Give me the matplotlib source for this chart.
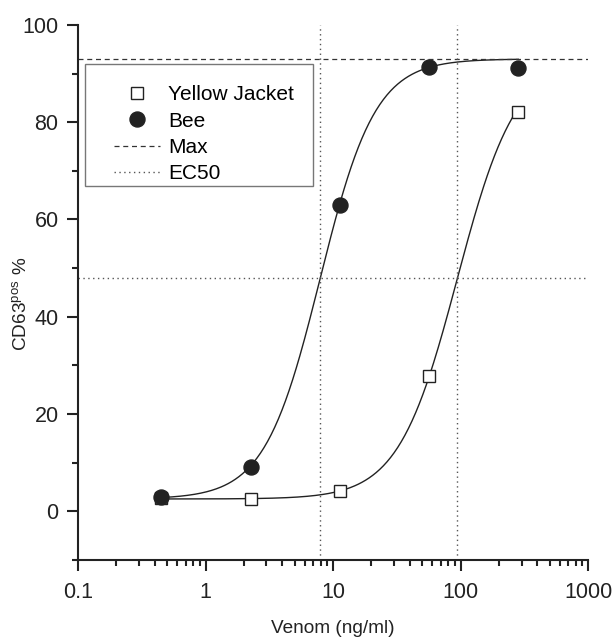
import numpy as np
from matplotlib import pyplot as plt
from matplotlib.patches import Rectangle

plt.rcParams["font.family"] = ["Liberation Sans", "DejaVu Sans"]

dose = [0.45, 2.27, 11.3, 56.6, 283]
yellow_jacket = [2.7, 2.5, 4.1, 27.8, 82.1]
bee = [2.9, 9.0, 63.0, 91.4, 91.2]

# fitted 4PL parameters
bottom = 2.5
top = 93.0
bee_ec50, bee_hill = 7.9, 2.0
yj_ec50, yj_hill = 94.0, 1.88
ec50_level = 47.9


def logistic(x, ec50, hill):
    return bottom + (top - bottom) / (1 + (ec50 / x) ** hill)


fig = plt.figure(figsize=(6.14, 6.39), dpi=100)
ax = fig.add_axes([0.127, 0.124, 0.831, 0.837])

xs = np.logspace(np.log10(dose[0]), np.log10(dose[-1]), 300)
ax.plot(xs, logistic(xs, bee_ec50, bee_hill), color="#222222", lw=1.0)
ax.plot(xs, logistic(xs, yj_ec50, yj_hill), color="#222222", lw=1.0)

ax.plot(dose, yellow_jacket, "s", ms=8.5, mfc="white", mec="#222222", mew=1.0,
        ls="none", label="Yellow Jacket")
ax.plot(dose, bee, "o", ms=10.8, color="#222222", ls="none", label="Bee")

ax.axhline(top, color="#333333", ls=(0, (4, 3)), lw=0.9, label="Max")
ax.axhline(ec50_level, color="#555555", ls=(0, (1, 2.5)), lw=1.0, label="EC50")
ax.axvline(bee_ec50, color="#555555", ls=(0, (1, 2.5)), lw=1.0)
ax.axvline(yj_ec50, color="#555555", ls=(0, (1, 2.5)), lw=1.0)

ax.set_xscale("log")
ax.set_xlim(0.1, 1000)
ax.set_ylim(-10, 100)
ax.set_xticks([0.1, 1, 10, 100, 1000])
ax.set_xticklabels(["0.1", "1", "10", "100", "1000"])
ax.set_yticks([0, 20, 40, 60, 80, 100])
ax.set_yticks([-10, 10, 30, 50, 70, 90], minor=True)

for s in ["top", "right"]:
    ax.spines[s].set_visible(False)
for s in ["left", "bottom"]:
    ax.spines[s].set_linewidth(1.5)
    ax.spines[s].set_color("#222222")

ax.tick_params(which="major", direction="out", length=8, width=1.5,
               labelsize=15.5, colors="#222222", pad=6)
ax.tick_params(axis="x", which="major", pad=8)
ax.tick_params(which="minor", direction="out", length=4.5, width=1.5,
               colors="#222222")

ax.set_xlabel("Venom (ng/ml)", fontsize=13.7, color="#222222", labelpad=12)
ax.set_ylabel("CD63$^{\\mathregular{pos}}$ %", fontsize=13.7, color="#222222")
ax.yaxis.set_label_coords(-0.092, 0.478)

# legend box drawn separately so its padding matches the original
ax.add_patch(Rectangle((0.0137, 0.699), 0.447, 0.228, transform=ax.transAxes,
                       fill=True, facecolor="white", edgecolor="#777777",
                       lw=1.0, zorder=4))
leg = ax.legend(loc="upper left", bbox_to_anchor=(0.0706, 0.887), fontsize=15,
                frameon=False, handlelength=2.2, handletextpad=0.4,
                borderpad=0, labelspacing=0.35, borderaxespad=0)
leg.set_zorder(5)

fig.savefig("out.png", dpi=100)
